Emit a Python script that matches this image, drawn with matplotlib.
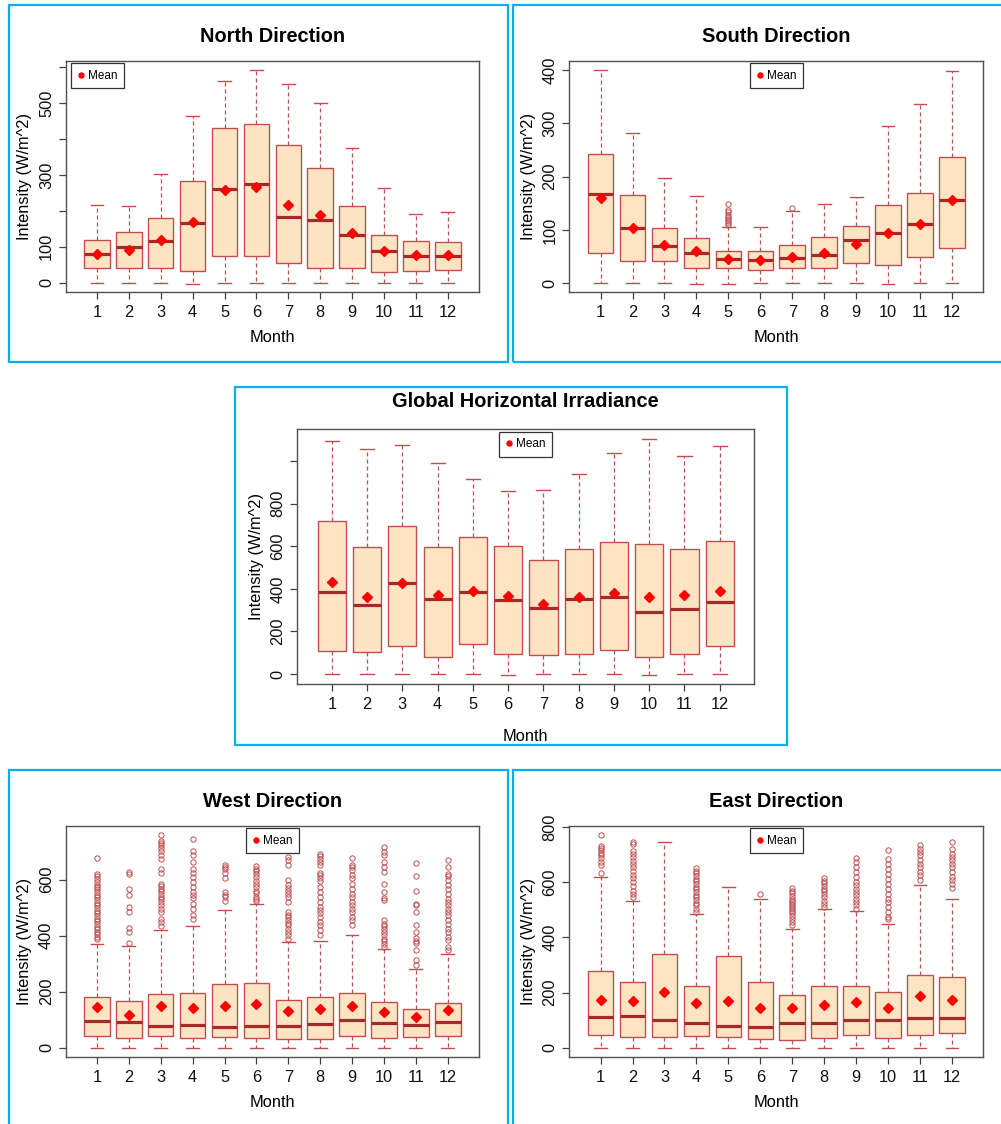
import numpy as np
import matplotlib
matplotlib.use("Agg")
import matplotlib.pyplot as plt
from matplotlib.lines import Line2D
from matplotlib.patches import Rectangle

plt.rcParams["font.family"] = ["Liberation Sans", "DejaVu Sans"]

W, H = 1001, 1124
MONTHS = list(range(1, 13))

# North facade
NORTH_LO = [0, 0, 0, -3, 0, 0, 0, 0, 0, 0, 0, 0]
NORTH_Q1 = [40, 40, 42, 33, 73, 75, 55, 42, 40, 29, 33, 34]
NORTH_MED = [79, 98, 117, 167, 261, 275, 183, 174, 134, 87, 73, 75]
NORTH_Q3 = [118, 140, 181, 284, 431, 442, 384, 320, 214, 134, 117, 112]
NORTH_HI = [215, 214, 303, 465, 561, 593, 553, 501, 375, 263, 190, 198]
NORTH_MEAN = [79, 91, 118, 168, 258, 267, 215, 188, 137, 88, 77, 77]
NORTH_OUT = [[] for _ in MONTHS]

# South facade
SOUTH_LO = [0, 0, 0, -1, -1, 0, 0, 0, 0, -1, 0, 0]
SOUTH_Q1 = [57, 42, 41, 29, 28, 25, 28, 29, 38, 35, 50, 66]
SOUTH_MED = [168, 103, 70, 56, 45, 43, 48, 52, 81, 94, 111, 157]
SOUTH_Q3 = [243, 166, 104, 85, 61, 61, 72, 87, 108, 146, 170, 236]
SOUTH_HI = [401, 281, 197, 163, 106, 106, 136, 149, 161, 296, 337, 398]
SOUTH_MEAN = [160, 103, 72, 60, 45, 44, 50, 57, 74, 94, 112, 157]
SOUTH_OUT = [[], [], [], [], [110, 113, 117, 121, 125, 128, 133, 138, 148], [],
             [141], [], [], [], [], []]

# Global horizontal irradiance
GHI_LO = [0, 0, 0, 0, 0, -4, 0, 0, 0, -4, 0, 0]
GHI_Q1 = [106, 102, 130, 80, 139, 92, 88, 96, 114, 80, 92, 130]
GHI_MED = [383, 322, 426, 351, 383, 346, 308, 351, 363, 291, 305, 336]
GHI_Q3 = [717, 595, 693, 598, 645, 603, 535, 588, 620, 612, 588, 623]
GHI_HI = [1094, 1056, 1075, 992, 917, 861, 865, 939, 1039, 1105, 1025, 1069]
GHI_MEAN = [432, 362, 427, 371, 391, 366, 329, 360, 382, 360, 369, 391]
GHI_OUT = [[] for _ in MONTHS]

# West facade
WEST_LO = [0, 0, 0, -2, 0, 0, 0, 0, 0, -2, 0, 0]
WEST_Q1 = [43, 33, 42, 33, 39, 36, 31, 32, 43, 33, 39, 43]
WEST_MED = [95, 91, 77, 80, 75, 77, 77, 85, 100, 89, 80, 91]
WEST_Q3 = [179, 168, 193, 195, 227, 229, 171, 179, 195, 163, 138, 161]
WEST_HI = [371, 364, 421, 436, 493, 512, 377, 380, 402, 352, 281, 336]
WEST_MEAN = [145, 116, 150, 142, 149, 154, 130, 139, 149, 127, 110, 133]
WEST_OUT = [
    [676, 620, 612, 601, 592, 582, 573, 565, 556, 546, 537, 527, 518, 508, 499,
     489, 480, 470, 461, 451, 442, 432, 423, 413, 404, 394, 387],
    [627, 620, 565, 546, 502, 484, 427, 413, 373],
    [761, 737, 730, 723, 713, 701, 687, 673, 637, 625, 586, 577, 568, 558, 549,
     539, 530, 520, 508, 496, 485, 461, 449, 435],
    [746, 704, 689, 663, 639, 625, 608, 592, 574, 556, 544, 535, 514, 496, 473, 461],
    [651, 644, 637, 625, 604, 556, 546, 537, 523],
    [649, 639, 630, 620, 608, 596, 585, 573, 561, 551, 539, 532, 523],
    [681, 671, 654, 598, 580, 570, 561, 549, 538, 520, 485, 475, 465, 456, 446,
     437, 425, 413, 401, 389],
    [693, 685, 675, 663, 654, 625, 615, 606, 596, 574, 556, 538, 520, 502, 490,
     479, 467, 449, 437, 419, 401],
    [679, 654, 644, 635, 615, 604, 586, 568, 550, 538, 520, 508, 496, 485, 467,
     455, 437],
    [717, 699, 689, 663, 645, 627, 586, 556, 535, 526, 455, 443, 435, 425, 413,
     401, 389, 380, 370, 361],
    [661, 613, 560, 514, 508, 485, 439, 413, 392, 382, 375, 348, 312, 296],
    [669, 644, 621, 612, 598, 580, 565, 550, 532, 520, 508, 496, 485, 473, 455,
     443, 425, 413, 395, 383, 360, 348],
]

# East facade
EAST_LO = [0, 0, 0, 0, 0, 0, 0, 0, 0, -2, 0, 0]
EAST_Q1 = [44, 40, 40, 42, 40, 33, 29, 34, 45, 36, 44, 52]
EAST_MED = [110, 115, 102, 90, 79, 76, 90, 90, 102, 99, 107, 107]
EAST_Q3 = [277, 239, 339, 222, 332, 239, 191, 225, 225, 203, 265, 258]
EAST_HI = [621, 534, 748, 484, 585, 540, 432, 502, 498, 450, 592, 539]
EAST_MEAN = [173, 171, 203, 162, 170, 145, 143, 154, 165, 143, 189, 173]
EAST_OUT = [
    [774, 732, 725, 717, 708, 699, 689, 674, 665, 636],
    [747, 740, 713, 703, 691, 679, 667, 655, 640, 628, 616, 602, 587, 570, 558, 546],
    [],
    [653, 643, 633, 623, 614, 604, 594, 585, 575, 565, 556, 546, 536, 527, 517,
     505, 493],
    [],
    [559],
    [580, 570, 561, 551, 541, 534, 527, 519, 512, 505, 498, 488, 479, 466, 456, 447],
    [616, 607, 597, 587, 577, 568, 558, 546, 534, 522, 511],
    [689, 674, 656, 638, 620, 602, 590, 577, 565, 553, 541, 529, 517, 505],
    [717, 684, 668, 650, 632, 614, 596, 577, 559, 541, 529, 511, 493, 475, 466],
    [735, 723, 711, 699, 680, 668, 656, 638, 626, 608],
    [748, 723, 705, 692, 680, 668, 656, 638, 620, 608, 596, 580],
]

FILL = "#FFE4C4"
EDGE = "#C04E50"
MEDC = "#A52A2A"
FRAME = "#00B0F0"

fig = plt.figure(figsize=(W / 100, H / 100), dpi=100)


def px_axes(x0, y0, x1, y1):
    return fig.add_axes([x0 / W, 1 - y1 / H, (x1 - x0) / W, (y1 - y0) / H])


def panel(box, title, lo, q1, med, q3, hi, mean, out, yticks, ylabels,
          leg_loc, leg_anchor, title_pad=14, xlab_pad=7):
    ax = px_axes(*box)
    stats = [dict(whislo=lo[i], q1=q1[i], med=med[i], q3=q3[i], whishi=hi[i],
                  mean=mean[i], fliers=np.array(out[i], dtype=float))
             for i in range(12)]
    ax.bxp(stats, positions=MONTHS, widths=0.8, capwidths=0.4, patch_artist=True,
           showmeans=True, showfliers=True,
           boxprops=dict(facecolor=FILL, edgecolor=EDGE, linewidth=1.0),
           medianprops=dict(color=MEDC, linewidth=2.3),
           whiskerprops=dict(color=EDGE, linewidth=0.9, linestyle=(0, (3.2, 2.4))),
           capprops=dict(color=EDGE, linewidth=1.0),
           flierprops=dict(marker="o", markerfacecolor="none", markeredgecolor=EDGE,
                           markersize=3.8, markeredgewidth=0.7),
           meanprops=dict(marker="D", markerfacecolor="red", markeredgecolor="red",
                          markersize=5.0, zorder=5))
    allv = list(lo) + list(hi) + [v for o in out for v in o]
    vmin, vmax = min(allv), max(allv)
    pad = 0.04 * (vmax - vmin)
    ax.set_ylim(vmin - pad, vmax + pad)
    ax.set_xlim(0.02, 12.98)
    ax.set_xticks(MONTHS)
    ax.set_xticklabels([str(m) for m in MONTHS])
    ax.set_yticks(yticks)
    ax.set_yticklabels(ylabels, rotation=90, va="center")
    ax.tick_params(axis="both", labelsize=11.8, length=5, width=0.9,
                   color="#404040", labelcolor="#111111")
    ax.tick_params(axis="x", pad=4.5)
    ax.tick_params(axis="y", pad=3.5)
    for s in ax.spines.values():
        s.set_color("#505050")
        s.set_linewidth(1.0)
    ax.set_title(title, fontsize=14.4, fontweight="bold", pad=title_pad)
    ax.set_xlabel("Month", fontsize=11.8, labelpad=xlab_pad)
    ax.set_ylabel("Intensity (W/m^2)", fontsize=11.8, labelpad=5)
    handle = Line2D([], [], marker="o", color="red", ls="none", markersize=3.6,
                    label="Mean")
    lg = ax.legend(handles=[handle], loc=leg_loc, bbox_to_anchor=leg_anchor,
                   fontsize=8.5, fancybox=False, framealpha=1, borderpad=0.55,
                   handlelength=0.6, handletextpad=0.3, borderaxespad=0.2)
    lg.get_frame().set_edgecolor("#333333")
    lg.get_frame().set_linewidth(0.9)
    return ax


panel((65.7, 61, 479, 292.3), "North Direction",
      NORTH_LO, NORTH_Q1, NORTH_MED, NORTH_Q3, NORTH_HI, NORTH_MEAN, NORTH_OUT,
      [0, 100, 200, 300, 400, 500, 600], ["0", "100", "", "300", "", "500", ""],
      "upper left", (0.006, 1.0))
panel((569.3, 61, 983.3, 292.3), "South Direction",
      SOUTH_LO, SOUTH_Q1, SOUTH_MED, SOUTH_Q3, SOUTH_HI, SOUTH_MEAN, SOUTH_OUT,
      [0, 100, 200, 300, 400], ["0", "100", "200", "300", "400"],
      "upper center", (0.5, 1.0))
panel((297.3, 429.3, 754.3, 684.3), "Global Horizontal Irradiance",
      GHI_LO, GHI_Q1, GHI_MED, GHI_Q3, GHI_HI, GHI_MEAN, GHI_OUT,
      [0, 200, 400, 600, 800, 1000], ["0", "200", "400", "600", "800", ""],
      "upper center", (0.5, 1.0), title_pad=16, xlab_pad=12)
panel((65.7, 826, 479, 1056.7), "West Direction",
      WEST_LO, WEST_Q1, WEST_MED, WEST_Q3, WEST_HI, WEST_MEAN, WEST_OUT,
      [0, 200, 400, 600], ["0", "200", "400", "600"],
      "upper center", (0.5, 1.0))
panel((569.3, 826, 983.3, 1056.7), "East Direction",
      EAST_LO, EAST_Q1, EAST_MED, EAST_Q3, EAST_HI, EAST_MEAN, EAST_OUT,
      [0, 200, 400, 600, 800], ["0", "200", "400", "600", "800"],
      "upper center", (0.5, 1.0))

# blue frames around each panel
for x0, y0, x1, y1 in [(8.5, 5, 508, 362), (512.7, 5, 1010, 362),
                       (234.7, 387, 786.7, 744.7), (9, 769.7, 508.3, 1135),
                       (512.7, 769.7, 1010, 1135)]:
    fig.add_artist(Rectangle((x0 / W, 1 - y1 / H), (x1 - x0) / W, (y1 - y0) / H,
                             transform=fig.transFigure, fill=False,
                             edgecolor=FRAME, linewidth=1.6, clip_on=False))

fig.savefig("out.png", dpi=100)
